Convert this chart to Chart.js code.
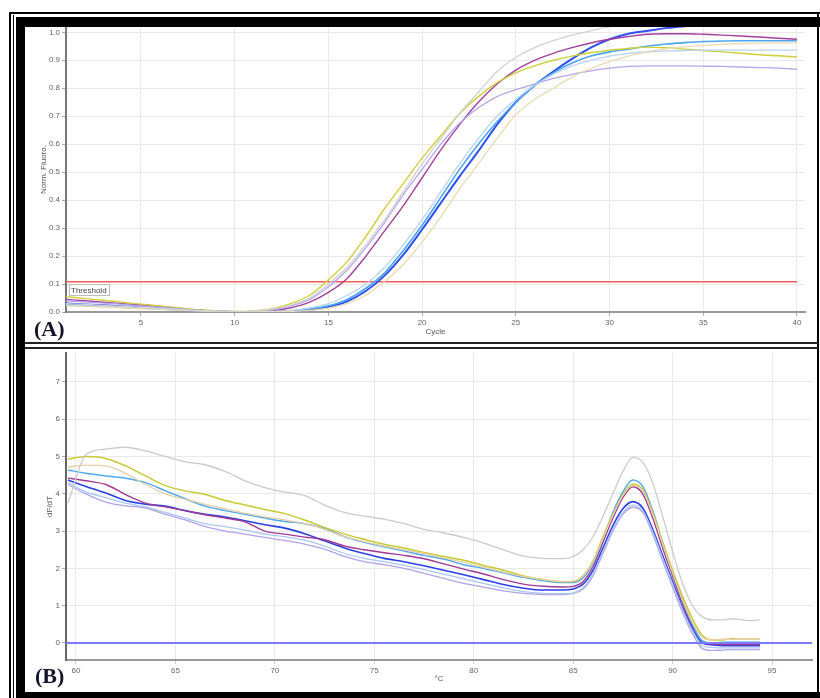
<!DOCTYPE html>
<html>
<head>
<meta charset="utf-8">
<script src="https://cdn.jsdelivr.net/npm/chart.js@4.4.1/dist/chart.umd.min.js"></script>
<style>
html,body{margin:0;padding:0;background:#fff;width:820px;height:698px;overflow:hidden}
body{position:relative}
.f{position:absolute;background:#000}
#wa{position:absolute;left:25px;top:27px;width:792px;height:315px}
#wb{position:absolute;left:25px;top:349px;width:792px;height:343px}
.lbl{position:absolute;font-family:"Liberation Serif","Times New Roman",serif;font-weight:bold;font-size:22px;line-height:22px;color:#15152a}
</style>
</head>
<body>
<div id="wa"><canvas id="ca" width="792" height="315"></canvas></div>
<div id="wb"><canvas id="cb" width="792" height="343"></canvas></div>

<div class="f" style="left:9px;top:12px;width:811px;height:2px"></div>
<div class="f" style="left:9px;top:12px;width:2px;height:686px"></div>
<div class="f" style="left:13px;top:15px;width:1px;height:683px"></div>
<div class="f" style="left:16px;top:17px;width:804px;height:10px"></div>
<div class="f" style="left:16px;top:17px;width:9px;height:681px"></div>
<div class="f" style="left:817px;top:12px;width:2px;height:686px"></div>
<div class="f" style="left:16px;top:692px;width:804px;height:6px"></div>
<div class="f" style="left:25px;top:342px;width:793px;height:2px;background:#222"></div>
<div class="f" style="left:25px;top:347px;width:793px;height:2px;background:#222"></div>

<div class="lbl" style="left:34px;top:318px">(A)</div>
<div class="lbl" style="left:35px;top:665px">(B)</div>

<script>
// ---------- Panel (A): amplification curves ----------
const cycles = [1,2,3,4,5,6,7,8,9,10,11,12,13,14,15,16,17,18,19,20,21,22,23,24,25,26,27,28,29,30,31,32,33,34,35,36,37,38,39,40];
const cycleTicks = [5,10,15,20,25,30,35,40];
const fluoroTicks = [0,0.1,0.2,0.3,0.4,0.5,0.6,0.7,0.8,0.9,1.0];
const threshold = 0.108;

const grayA = [.03,.027,.024,.02,.017,.013,.009,.005,.002,.001,.003,.01,.025,.05,.1,.16,.24,.33,.43,.53,.62,.71,.785,.86,.91,.945,.97,.99,1.005,1.02,1.03,1.04,1.045,1.05,1.05,1.05,1.05,1.05,1.05,1.05];
const tanA = [.022,.02,.018,.015,.012,.01,.007,.004,.002,0,0,0,.002,.006,.014,.03,.06,.11,.17,.25,.34,.44,.53,.62,.705,.76,.8,.84,.87,.895,.915,.93,.94,.948,.953,.957,.96,.961,.962,.962];
const paleBlueA = [.025,.022,.02,.017,.014,.011,.008,.005,.002,.001,0,.002,.006,.015,.03,.06,.1,.16,.24,.33,.43,.53,.62,.7,.76,.81,.85,.88,.9,.915,.925,.93,.933,.935,.936,.936,.936,.936,.936,.936];
const lavenderA = [.04,.036,.032,.027,.022,.017,.012,.007,.003,.001,.002,.008,.022,.045,.09,.15,.23,.32,.42,.51,.6,.675,.73,.77,.795,.815,.835,.85,.862,.872,.878,.88,.88,.88,.879,.878,.876,.874,.872,.868];
const yellowA = [.055,.048,.042,.035,.028,.022,.015,.008,.004,.002,.004,.012,.03,.06,.115,.18,.27,.37,.46,.55,.63,.71,.77,.82,.855,.88,.90,.915,.927,.936,.942,.947,.945,.94,.935,.93,.925,.92,.916,.912];
const lightBlueA = [.025,.022,.02,.017,.014,.011,.008,.005,.002,.001,0,.001,.004,.01,.022,.045,.085,.14,.22,.31,.41,.51,.6,.68,.75,.81,.855,.89,.915,.93,.94,.95,.958,.963,.967,.969,.97,.97,.97,.97];
const magentaA = [.045,.04,.035,.03,.025,.02,.013,.007,.003,.001,.001,.005,.015,.035,.07,.12,.2,.29,.38,.48,.58,.67,.75,.815,.865,.9,.925,.945,.962,.975,.985,.993,.995,.995,.993,.99,.987,.983,.979,.975];
const blueA = [.03,.027,.024,.02,.017,.013,.009,.005,.002,0,0,.001,.003,.008,.018,.038,.075,.13,.205,.295,.39,.485,.575,.67,.75,.81,.86,.905,.945,.975,.995,1.005,1.015,1.022,1.028,1.03,1.03,1.03,1.03,1.03];

// ---------- Panel (B): melt curves ----------
const meltTemps = [59.6,60.5,61.5,62.5,63.5,64.5,65.5,66.5,67.5,68.5,69.5,70.5,71.5,72.5,73.5,74.5,75.5,76.5,77.5,78.5,79.5,80.5,81.5,82.5,83.5,84.5,85,85.5,86,86.5,87,87.5,88,88.5,89,89.5,90,90.5,91,91.5,92,92.5,93,93.5,94,94.4];
const tempTicks = [60,65,70,75,80,85,90,95];
const dfdtTicks = [0,1,2,3,4,5,6,7];
const meltBaseline = 0;

const grayB = [3.75,5.05,5.2,5.25,5.15,5.0,4.86,4.78,4.6,4.35,4.17,4.05,3.95,3.7,3.5,3.4,3.32,3.2,3.05,2.95,2.83,2.68,2.5,2.33,2.27,2.26,2.32,2.5,2.85,3.4,4.0,4.6,4.98,4.85,4.3,3.4,2.45,1.6,1.0,0.7,0.62,0.62,0.65,0.62,0.6,0.62];
const tanB = [4.72,4.77,4.75,4.55,4.25,4.0,3.85,3.72,3.6,3.48,3.38,3.3,3.2,3.05,2.85,2.72,2.6,2.5,2.4,2.28,2.16,2.03,1.9,1.78,1.7,1.65,1.66,1.8,2.18,2.8,3.42,3.95,4.22,4.08,3.45,2.65,1.88,1.15,0.55,0.15,0.08,0.1,0.1,0.1,0.1,0.1];
const paleBlueB = [4.3,4.05,3.9,3.75,3.65,3.5,3.35,3.2,3.12,3.03,2.92,2.85,2.76,2.6,2.4,2.27,2.18,2.08,1.97,1.85,1.72,1.6,1.48,1.38,1.33,1.32,1.34,1.48,1.85,2.45,3.05,3.5,3.7,3.55,2.98,2.28,1.58,0.9,0.32,-0.08,-0.12,-0.13,-0.13,-0.13,-0.13,-0.13];
const lavenderB = [4.25,4.0,3.78,3.68,3.62,3.45,3.3,3.12,3.0,2.92,2.83,2.75,2.65,2.52,2.32,2.18,2.1,2.0,1.87,1.73,1.6,1.5,1.4,1.33,1.3,1.3,1.33,1.45,1.8,2.4,3.0,3.45,3.64,3.5,2.92,2.2,1.5,0.82,0.25,-0.15,-0.2,-0.19,-0.18,-0.18,-0.18,-0.18];
const yellowB = [4.93,5.0,4.95,4.75,4.48,4.22,4.08,3.98,3.82,3.7,3.58,3.47,3.3,3.1,2.92,2.78,2.65,2.55,2.43,2.32,2.22,2.08,1.95,1.8,1.7,1.64,1.65,1.8,2.2,2.85,3.45,3.98,4.26,4.12,3.5,2.7,1.95,1.25,0.65,0.2,0.08,0.08,0.12,0.1,0.1,0.1];
const lightBlueB = [4.64,4.55,4.48,4.42,4.3,4.08,3.87,3.67,3.55,3.45,3.35,3.26,3.2,3.07,2.85,2.7,2.58,2.47,2.35,2.25,2.1,2.0,1.88,1.76,1.67,1.62,1.62,1.75,2.15,2.8,3.5,4.05,4.37,4.2,3.55,2.7,1.9,1.15,0.5,0.05,0.0,0.02,0.02,0.02,0.02,0.02];
const magentaB = [4.42,4.35,4.25,3.98,3.75,3.65,3.55,3.44,3.35,3.25,3.0,2.92,2.84,2.77,2.6,2.5,2.42,2.35,2.26,2.12,1.98,1.85,1.7,1.58,1.52,1.5,1.52,1.65,2.05,2.7,3.35,3.9,4.19,4.0,3.35,2.55,1.8,1.05,0.45,0.05,-0.03,-0.04,-0.04,-0.04,-0.04,-0.04];
const blueB = [4.37,4.2,4.02,3.82,3.72,3.67,3.55,3.45,3.38,3.28,3.17,3.08,2.93,2.74,2.55,2.4,2.27,2.18,2.07,1.95,1.83,1.7,1.57,1.47,1.42,1.42,1.45,1.58,1.95,2.55,3.15,3.6,3.79,3.62,3.05,2.35,1.65,0.95,0.4,0.0,-0.05,-0.07,-0.07,-0.07,-0.07,-0.07];

// ---------- helpers ----------
const FONT = '"Liberation Sans", Arial, sans-serif';
const pts = (xs, ys) => ys.map((v, i) => ({x: xs[i], y: v}));
const zeroPad = s => { s.paddingTop = 0; s.paddingBottom = 0; s.paddingLeft = 0; s.paddingRight = 0; };
const setTicks = arr => s => { s.ticks = arr.map(v => ({value: v})); };
const line = (label, xs, ys, color, w) => ({
  label, data: pts(xs, ys), borderColor: color, backgroundColor: color,
  borderWidth: w || 1.3, pointRadius: 0, fill: false, cubicInterpolationMode: 'monotone'
});
const tickFont = {family: FONT, size: 8};
const gridCol = '#e9e9e9';

const thresholdLabel = {
  id: 'thresholdLabel',
  afterDatasetsDraw(chart) {
    const {ctx, scales: {x, y}} = chart;
    const px = Math.round(x.getPixelForValue(cycles[0])) + 3;
    const py = Math.round(y.getPixelForValue(threshold)) + 2;
    ctx.save();
    ctx.font = '8px ' + FONT;
    const w = Math.ceil(ctx.measureText('Threshold').width) + 4;
    ctx.fillStyle = '#fff';
    ctx.fillRect(px, py, w, 11);
    ctx.strokeStyle = '#bdbdbd';
    ctx.lineWidth = 1;
    ctx.strokeRect(px + 0.5, py + 0.5, w, 11);
    ctx.fillStyle = '#444';
    ctx.textBaseline = 'middle';
    ctx.fillText('Threshold', px + 2, py + 6.5);
    ctx.restore();
  }
};

// ---------- Chart A ----------
const xMinA = 1, xMaxA = 40.43;
new Chart(document.getElementById('ca'), {
  type: 'line',
  data: {
    datasets: [
      line('Sample 1', cycles, grayA, '#d2d2d2', 1.3),
      line('Sample 2', cycles, tanA, '#eadbb0', 1.3),
      line('Sample 3', cycles, paleBlueA, '#b9d3f3', 1.3),
      line('Sample 4', cycles, lavenderA, '#b3a6ec', 1.3),
      line('Sample 5', cycles, yellowA, '#cfcf3c', 1.4),
      line('Sample 6', cycles, lightBlueA, '#4aa6ee', 1.6),
      line('Sample 7', cycles, magentaA, '#a2409c', 1.4),
      line('Sample 8', cycles, blueA, '#2f4ff0', 2),
      {label: 'Threshold', data: [{x: cycles[0], y: threshold}, {x: cycles[cycles.length - 1], y: threshold}],
       borderColor: '#ff5a5a', borderWidth: 1.5, pointRadius: 0, fill: false}
    ]
  },
  options: {
    responsive: false, animation: false,
    layout: {padding: {left: 0, right: 12, top: 0, bottom: 0}},
    plugins: {legend: {display: false}, tooltip: {enabled: false}},
    scales: {
      x: {
        type: 'linear', min: xMinA, max: xMaxA,
        afterBuildTicks: setTicks(cycleTicks),
        afterFit: s => { s.height = 30; zeroPad(s); },
        grid: {color: gridCol, tickColor: '#aaa', tickLength: 4},
        border: {color: '#999', width: 2},
        ticks: {font: tickFont, color: '#666', padding: 2, maxRotation: 0},
        title: {display: true, text: 'Cycle', font: {family: FONT, size: 8}, color: '#555', padding: {top: 0, bottom: 5}}
      },
      y: {
        type: 'linear', min: 0, max: 1.019,
        afterBuildTicks: setTicks(fluoroTicks),
        afterFit: s => { s.width = 41; zeroPad(s); },
        grid: {color: gridCol, tickColor: '#aaa', tickLength: 4},
        border: {color: '#777', width: 2},
        ticks: {font: tickFont, color: '#666', padding: 2, callback: v => v.toFixed(1)},
        title: {display: true, text: 'Norm. Fluoro.', font: {family: FONT, size: 8}, color: '#555', padding: {top: 14, bottom: 0}}
      }
    }
  },
  plugins: [thresholdLabel]
});

// ---------- Chart B ----------
const xMinB = 59.5, xMaxB = 97.01;
new Chart(document.getElementById('cb'), {
  type: 'line',
  data: {
    datasets: [
      {label: 'Baseline', data: [{x: xMinB, y: meltBaseline}, {x: xMaxB, y: meltBaseline}],
       borderColor: '#7b7bff', borderWidth: 2, pointRadius: 0, fill: false},
      line('Sample 1', meltTemps, grayB, '#cbcbcb', 1.3),
      line('Sample 2', meltTemps, tanB, '#e8cfa6', 1.3),
      line('Sample 3', meltTemps, paleBlueB, '#a9c7f0', 1.3),
      line('Sample 4', meltTemps, lavenderB, '#b2a2ea', 1.3),
      line('Sample 5', meltTemps, yellowB, '#c9c934', 1.5),
      line('Sample 6', meltTemps, lightBlueB, '#4ea8ef', 1.5),
      line('Sample 7', meltTemps, magentaB, '#a03a95', 1.4),
      line('Sample 8', meltTemps, blueB, '#2c3fe6', 1.6)
    ]
  },
  options: {
    responsive: false, animation: false,
    layout: {padding: {left: 0, right: 5, top: 4, bottom: 0}},
    plugins: {legend: {display: false}, tooltip: {enabled: false}},
    scales: {
      x: {
        type: 'linear', min: xMinB, max: xMaxB,
        afterBuildTicks: setTicks(tempTicks),
        afterFit: s => { s.height = 32; zeroPad(s); },
        grid: {color: gridCol, tickColor: '#ccc', tickLength: 4},
        border: {color: '#999', width: 2},
        ticks: {font: tickFont, color: '#666', padding: 2, maxRotation: 0},
        title: {display: true, text: '°C', font: {family: FONT, size: 8}, color: '#555', padding: {top: 0, bottom: 8}}
      },
      y: {
        type: 'linear', min: -0.456, max: 7.777,
        afterBuildTicks: setTicks(dfdtTicks),
        afterFit: s => { s.width = 41; zeroPad(s); },
        grid: {color: gridCol, tickColor: '#aaa', tickLength: 4},
        border: {color: '#666', width: 2},
        ticks: {font: tickFont, color: '#666', padding: 2},
        title: {display: true, text: 'dF/dT', font: {family: FONT, size: 8}, color: '#555', padding: {top: 20, bottom: 0}}
      }
    }
  }
});
</script>
</body>
</html>
